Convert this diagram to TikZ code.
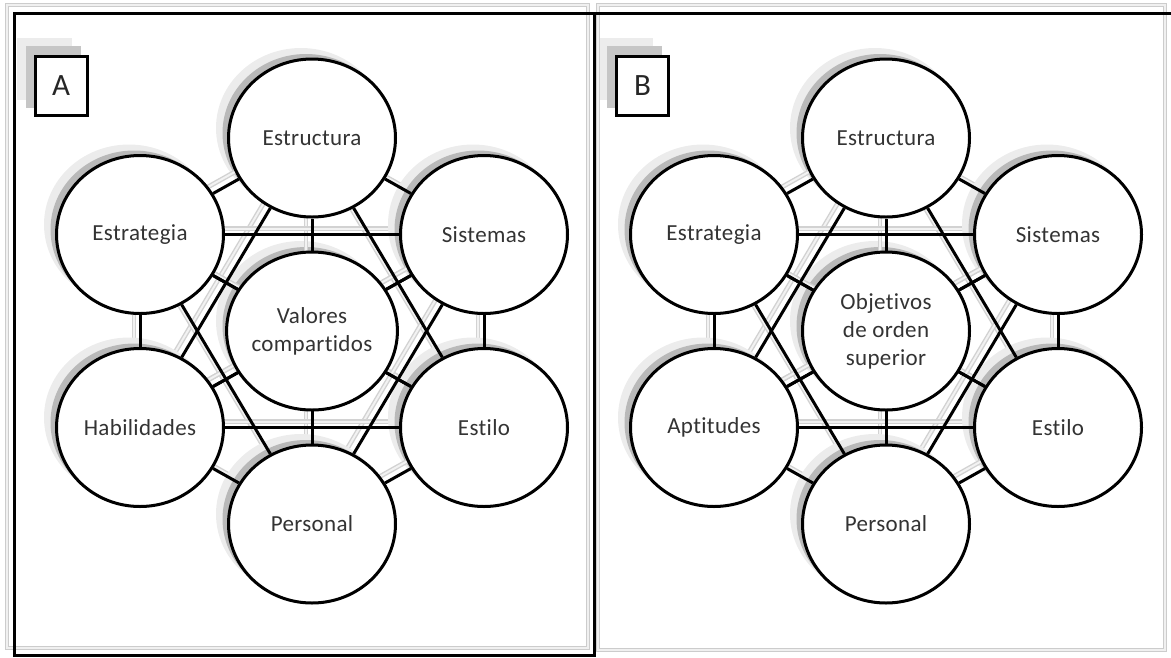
\documentclass[tikz,border=0pt]{standalone}
\usepackage{fontspec}
\setmainfont{Carlito}[Ligatures=NoCommon,LetterSpace=1.5]
\usetikzlibrary{shapes.geometric}
\pgfdeclarelayer{shade}
\pgfdeclarelayer{links}
\pgfsetlayers{shade,links,main}
\tikzset{
	siete/.style={draw,ellipse,fill=white,line width=3pt,minimum width=167pt,minimum height=158pt,inner sep=0pt,align=center,text=black!80,font=\fontsize{23}{28}\selectfont},
	letra/.style={draw,rectangle,fill=white,line width=3pt,minimum width=52pt,minimum height=59pt,inner sep=0pt,text=black!85,font=\fontsize{31}{36}\selectfont},
	linea/.style={line width=3pt},
	sombralinea/.style={draw=gray!35,double=gray!10,double distance=2pt,line width=1.4pt},
	marco/.style={line width=3pt},
	marcogris/.style={draw=gray!40,double=gray!12,double distance=1.5pt,line width=1.2pt}
}

\begin{document}
\begin{tikzpicture}[x=1pt,y=1pt]
	\useasboundingbox (0,0) rectangle (1171,-657);
	% marcos
	\draw[marcogris] (7,-5) rectangle (588,-648);
	\draw[marcogris] (598,-5) rectangle (1165,-650);
	\draw[marco] (14,-657) -- (14,-13) -- (1171,-13);
	\draw[marco] (594,-13) -- (594,-657);
	\draw[marco] (14,-655) -- (594,-655);
	% letras
	\node[letra] (letraA) at (61,-85.5) {A};
	\node[letra] (letraB) at (642.5,-85.5) {B};
	% modelo A
	\node[siete] (vala) at (312,-331) {Valores\\compartidos};
	\node[siete] (estua) at (312,-138) {Estructura};
	\node[siete] (estra) at (140,-234.5) {Estrategia};
	\node[siete] (sisa) at (484,-234.5) {Sistemas};
	\node[siete] (haba) at (140,-427.5) {Habilidades};
	\node[siete] (estia) at (484,-427.5) {Estilo};
	\node[siete] (pera) at (312,-524) {Personal};
	% modelo B
	\node[siete] (valb) at (886,-331) {Objetivos\\de orden\\superior};
	\node[siete] (estub) at (886,-138) {Estructura};
	\node[siete] (estrb) at (714,-234.5) {Estrategia};
	\node[siete] (sisb) at (1058,-234.5) {Sistemas};
	\node[siete] (habb) at (714,-427.5) {Aptitudes};
	\node[siete] (estib) at (1058,-427.5) {Estilo};
	\node[siete] (perb) at (886,-524) {Personal};
	% sombras
	\begin{pgfonlayer}{shade}
		\foreach \l in {A,B} {
			\fill[gray!15] ([shift={(-17pt,17pt)}]letra\l.south west) rectangle ([shift={(-17pt,17pt)}]letra\l.north east);
			\fill[gray!45] ([shift={(-8pt,9pt)}]letra\l.south west) rectangle ([shift={(-8pt,9pt)}]letra\l.north east);
		}
	\end{pgfonlayer}
	% enlaces
	\foreach \p in {a,b} {
		\foreach \u [count=\i] in {val,estu,estr,sis,hab,esti,per} {
			\begin{pgfonlayer}{shade}
				\fill[gray!15] ([shift={(-11pt,10pt)}]\u\p.center) ellipse [x radius=85pt, y radius=80pt];
				\fill[gray!55] ([shift={(-6pt,5pt)}]\u\p.center) ellipse [x radius=83.5pt, y radius=79pt];
			\end{pgfonlayer}
			\foreach \v [count=\j] in {val,estu,estr,sis,hab,esti,per} {
				\ifnum\j>\i
					\begin{pgfonlayer}{shade}
						\draw[sombralinea] ([shift={(-6pt,6pt)}]\u\p.center) -- ([shift={(-6pt,6pt)}]\v\p.center);
					\end{pgfonlayer}
					\begin{pgfonlayer}{links}
						\draw[linea] (\u\p) -- (\v\p);
					\end{pgfonlayer}
				\fi
			}
		}
	}
\end{tikzpicture}
\end{document}
